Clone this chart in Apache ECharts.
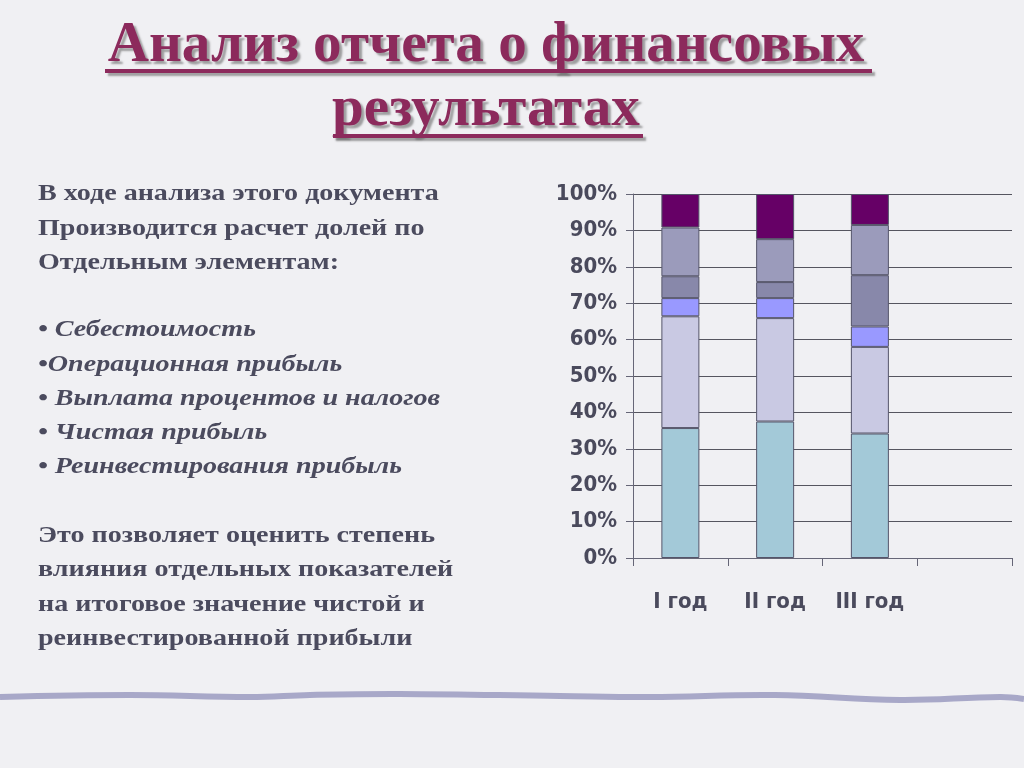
<!DOCTYPE html>
<html><head><meta charset="utf-8">
<script src="https://cdn.jsdelivr.net/npm/echarts@6/dist/echarts.min.js"></script>
<style>html,body{margin:0;padding:0;background:#f0f0f3;}#c{width:1024px;height:768px;}</style>
</head><body><div id="c"></div>
<script>
const categories = ['I год', 'II год', 'III год', ''];
const yTicks = [0, 10, 20, 30, 40, 50, 60, 70, 80, 90, 100];
const seriesNames = ['Серия 1', 'Серия 2', 'Серия 3', 'Серия 4', 'Серия 5', 'Серия 6'];
const s1 = [35.7, 37.5, 34.2, null];
const s2 = [30.7, 28.4, 23.8, null];
const s3 = [5.0, 5.5, 5.6, null];
const s4 = [6.0, 4.4, 14.1, null];
const s5 = [13.4, 11.8, 13.8, null];
const s6 = [9.2, 12.4, 8.5, null];
const colors = ['#a3c9d8', '#c9c9e3', '#9999ff', '#8888aa', '#9b9bbb', '#660066'];
const titleLines = ['Анализ отчета о финансовых', 'результатах'];
const introLines = ['В ходе анализа этого документа', 'Производится расчет долей по', 'Отдельным элементам:'];
const bulletLines = ['• Себестоимость', '•Операционная прибыль', '• Выплата процентов и налогов', '• Чистая прибыль', '• Реинвестирования прибыль'];
const outroLines = ['Это позволяет оценить степень', 'влияния отдельных показателей', 'на итоговое значение чистой и', 'реинвестированной прибыли'];

const chart = echarts.init(document.getElementById('c'));
const allData = [s1, s2, s3, s4, s5, s6];
const txtColor = '#4b4b5e';
const graphics = [];
// title
const titleY = [47, 111];
titleLines.forEach((t, i) => {
  graphics.push({type: 'text', x: 486, y: titleY[i], scaleX: 1.02, style: {
    text: t, align: 'center', verticalAlign: 'middle',
    font: 'bold 56px "Liberation Serif", serif', fill: '#8c2a5c',
    textShadowColor: 'rgba(90,90,90,0.55)', textShadowOffsetX: 3, textShadowOffsetY: 3, textShadowBlur: 2
  }});
});
graphics.push({type: 'rect', shape: {x: 105, y: 69, width: 767, height: 4}, style: {fill: '#8c2a5c', shadowColor: 'rgba(90,90,90,0.55)', shadowOffsetX: 3, shadowOffsetY: 3, shadowBlur: 2}});
graphics.push({type: 'rect', shape: {x: 333, y: 134, width: 310, height: 4}, style: {fill: '#8c2a5c', shadowColor: 'rgba(90,90,90,0.55)', shadowOffsetX: 3, shadowOffsetY: 3, shadowBlur: 2}});
// left text
const sx = 1.17;
introLines.forEach((t, i) => graphics.push({type: 'text', x: 38, y: 194 + i * 34.5, scaleX: sx, style: {text: t, verticalAlign: 'middle', font: 'bold 24px "Liberation Serif", serif', fill: txtColor}}));
bulletLines.forEach((t, i) => graphics.push({type: 'text', x: 38, y: 330 + i * 34.3, scaleX: sx, style: {text: t, verticalAlign: 'middle', font: 'italic bold 24px "Liberation Serif", serif', fill: txtColor}}));
outroLines.forEach((t, i) => graphics.push({type: 'text', x: 38, y: 536 + i * 34.2, scaleX: sx, style: {text: t, verticalAlign: 'middle', font: 'bold 24px "Liberation Serif", serif', fill: txtColor}}));
// wavy bottom line
graphics.push({type: 'polyline', shape: {smooth: 0.4, points: [[0, 697], [130, 695], [250, 697], [310, 695], [400, 694], [560, 696], [650, 697], [775, 695], [900, 700], [1000, 697], [1024, 699]]}, style: {stroke: '#a8a8c8', lineWidth: 6, fill: null}});

chart.setOption({
  backgroundColor: '#f0f0f3',
  animation: false,
  grid: {left: 633, right: 12, top: 194, bottom: 210, containLabel: false},
  xAxis: {
    type: 'category', data: categories, boundaryGap: true,
    axisLine: {lineStyle: {color: '#666677', width: 1}},
    axisTick: {show: true, length: 8, lineStyle: {color: '#666677'}},
    axisLabel: {margin: 33, color: '#4a4a5c', fontSize: 22, fontWeight: 'bold', fontFamily: '"DejaVu Sans Condensed", "Liberation Sans Narrow", sans-serif'}
  },
  yAxis: {
    type: 'value', min: 0, max: 100, interval: 10,
    axisLine: {show: true, lineStyle: {color: '#666677'}},
    axisTick: {show: true, length: 7, lineStyle: {color: '#666677'}},
    splitLine: {lineStyle: {color: '#55555f', width: 1}},
    axisLabel: {margin: 16, color: '#4a4a5c', fontSize: 22, fontWeight: 'bold', fontFamily: '"DejaVu Sans Condensed", "Liberation Sans Narrow", sans-serif', formatter: v => v + '%'}
  },
  series: allData.map((d, i) => ({
    name: seriesNames[i], type: 'bar', stack: 'total', data: d, barWidth: 38,
    itemStyle: {color: colors[i], borderColor: '#55556a', borderWidth: 1}
  })),
  graphic: graphics
});
</script></body></html>
